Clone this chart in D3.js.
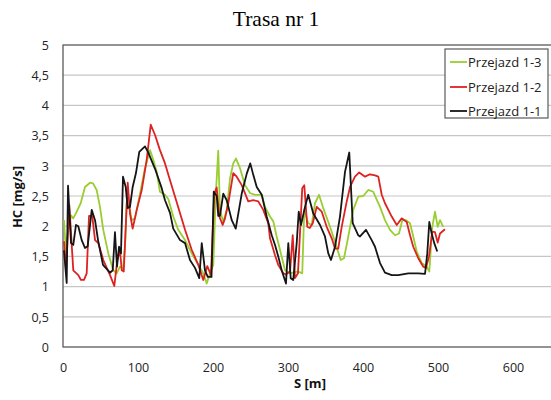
<!DOCTYPE html>
<html><head><meta charset="utf-8">
<script src="https://cdn.jsdelivr.net/npm/d3@7"></script>
<style>body{margin:0;background:#fff}svg{display:block}</style>
</head><body>
<svg id="c" width="551" height="400"></svg>
<script>
// ---- data ----
const title = "Trasa nr 1";
const xLabel = "S [m]";
const yLabel = "HC [mg/s]";
const xTicks = [0,100,200,300,400,500,600];
const yTicks = [0,0.5,1,1.5,2,2.5,3,3.5,4,4.5,5];
const seriesNames = ["Przejazd 1-3","Przejazd 1-2","Przejazd 1-1"];

const s13 = [1.3,4,6.7,10.7,13.7,18.3,23.6,29.3,36,40,44.9,49.3,53.7,60.4,67,71.6,76,80,82.7,84.9,89.3,91.6,96,102.7,109.3,116,120.4,124.9,129.3,136,140.4,147,153.7,162.7,171.6,180.4,187,191.6,196,200.4,203.6,207,209.3,213.7,218.3,222.7,227,230.7,236,242.7,249.3,256,265,269.3,276,280.4,284.9,289.3,296,302.7,309.3,313.7,319,321.7,327,331.6,336,341.3,347,356,362.7,370.3,374.7,380.4,387,393.7,400.4,407,413.7,418,422.7,429.3,436,442.7,448,452.4,457.3,462.7,467,471.6,478.3,485,488.4,492.4,496,499.6,502.7,507];
const hc13 = [2.1,1.55,1.9,2.18,2.13,2.24,2.38,2.65,2.72,2.71,2.6,2.32,1.94,1.55,1.27,1.22,1.33,1.29,1.66,2.38,2.27,2.1,2.13,2.54,2.96,3.26,3.1,2.9,2.57,2.52,2.45,2.16,1.94,1.77,1.55,1.36,1.22,1.05,1.22,1.36,2.49,3.25,2.27,2.07,2.27,2.79,3.04,3.12,2.96,2.68,2.55,2.52,2.52,2.32,2.16,2.08,1.83,1.61,1.27,1.22,1.24,1.25,1.22,2.27,2.05,2.02,2.38,2.52,2.3,1.99,1.74,1.44,1.47,1.83,2.27,2.49,2.5,2.6,2.57,2.45,2.32,2.1,1.94,1.85,1.88,2.1,2.1,2.05,1.83,1.58,1.39,1.33,1.25,1.99,2.24,1.99,2.1,1.99];

const s12 = [1.3,4,8.4,13.7,20.4,24,28,31.6,34.7,39,42.7,47.1,53.7,62.7,68.4,72.4,76,78.3,81,86.3,89.3,92.9,98.3,105,111.6,117,122.7,129.3,136,142.7,149.3,162.7,171.6,180.4,187,192.4,197.3,201.7,204.9,208.4,212.9,216,220.4,227,231.6,238.3,247,253.7,260.4,267,273.7,276,282.7,287,293.7,297,302.7,306.3,309.3,313.3,319,321.7,325.7,329,333,338.3,345,351.6,358.3,362.7,367,371.6,378.3,382.7,389.3,395,402.7,409.3,416,420.4,425,429.3,438.3,445,451.6,458.3,462.7,467,473.7,480.4,484,488,492.4,496,499.6,502.7,509.3];
const hc12 = [1.75,1.27,2.35,1.27,1.19,1.11,1.11,1.22,2.17,2.17,1.77,1.72,1.44,1.19,1.01,1.44,1.6,1.27,1.25,2.72,2.21,1.96,2.27,2.6,3.1,3.68,3.51,3.26,3.04,2.76,2.49,1.94,1.61,1.36,1.11,1.34,1.19,2.54,2.64,2.16,2.02,2.13,2.38,2.88,2.82,2.68,2.41,2.43,2.41,2.27,2.05,1.8,1.52,1.36,1.22,1.2,1.25,1.85,1.14,1.22,2.63,2.68,1.99,1.97,2.05,2.32,2.24,1.99,1.8,1.63,1.63,1.99,2.41,2.65,2.82,2.89,2.82,2.86,2.84,2.82,2.52,2.38,2.16,2.02,2.13,2.07,1.85,1.66,1.47,1.33,1.31,1.5,1.91,1.9,1.73,1.88,1.95];

const s11 = [1.3,4.9,6.7,10.7,13.7,17.3,20.4,24.9,29.3,32.9,38.3,42.7,46.7,53.3,62.7,66.3,69.3,72,74.7,77.3,80,83.6,86.3,89.3,92.9,97.3,101.7,109.3,113.3,122.7,131.6,136,142.7,147,156,162.7,169.3,176,181.7,185,189.3,193,198,201,205,207,209.3,213.7,218.3,225,230.3,238.3,245,249.7,253.7,258.3,265,271.6,278.3,282.7,287,291.6,297.3,300.4,303.6,307,311.6,314.3,317.3,322.7,327,333.7,342.7,349.3,353.7,357.3,362.7,369.3,376,381.7,386.3,393.7,396,404,411.6,416,422.7,429.3,438.3,447,460.4,473.7,482.7,485.7,488.4,491.6,495,499];
const hc11 = [1.6,1.06,2.67,1.72,1.69,2.02,2.0,1.77,1.64,1.67,2.27,2.1,1.77,1.36,1.23,1.27,1.9,1.33,1.66,1.55,2.82,2.65,2.3,2.32,2.65,2.88,3.23,3.32,3.23,2.95,2.63,2.43,2.22,1.96,1.77,1.72,1.44,1.31,1.14,1.72,1.27,1.16,1.16,2.57,2.5,2.17,2.17,2.54,2.43,2.1,1.96,2.54,2.87,3.04,2.85,2.65,2.52,2.16,1.85,1.69,1.5,1.27,1.05,1.72,1.14,1.11,1.72,2.24,2.02,2.32,2.52,2.21,2.02,1.83,1.55,1.44,1.66,2.16,2.9,3.22,2.05,1.85,1.83,1.94,1.77,1.66,1.39,1.23,1.19,1.19,1.22,1.22,1.21,1.55,2.07,1.88,1.72,1.58];

const seriesColors = ["#9acd32","#dd2222","#151515"];
// ---- chart ----
const series = [
  {name: seriesNames[0], s: s13, v: hc13, color: seriesColors[0]},
  {name: seriesNames[1], s: s12, v: hc12, color: seriesColors[1]},
  {name: seriesNames[2], s: s11, v: hc11, color: seriesColors[2]}
];
const svg = d3.select("#c");
const L = 63, T = 45, R = 558, B = 347;
const x = d3.scaleLinear().domain([0,660]).range([L,R]);
const y = d3.scaleLinear().domain([0,5]).range([B,T]);
const font = "'Open Sans', 'Noto Sans', sans-serif";

svg.append("text").attr("x",276).attr("y",26).attr("text-anchor","middle")
  .attr("font-family","'Liberation Serif', 'Times New Roman', serif").attr("font-size",21.5)
  .attr("fill","#000").text(title);

// grid
svg.append("g").selectAll("line").data(yTicks.slice(1,-1)).join("line")
  .attr("x1",L).attr("x2",R).attr("y1",d=>y(d)).attr("y2",d=>y(d))
  .attr("stroke","#c6c6c6").attr("stroke-width",1.2);

// axes
const fmt = d => String(d).replace(".", ",");
const ya = svg.append("g").attr("transform",`translate(${L-14},0)`)
  .call(d3.axisLeft(y).tickValues(yTicks).tickSize(0).tickPadding(0).tickFormat(fmt));
ya.select(".domain").remove();
ya.selectAll("text").attr("font-family",font).attr("font-size",12.5).attr("fill","#222").attr("dy","0.35em");

const xa = svg.append("g").attr("transform",`translate(0,${B})`)
  .call(d3.axisBottom(x).tickValues(xTicks).tickSize(0).tickPadding(16).tickFormat(d3.format("d")));
xa.select(".domain").remove();
xa.selectAll("text").attr("font-family",font).attr("font-size",12.5).attr("fill","#222");

// border
svg.append("rect").attr("x",L).attr("y",T).attr("width",R-L).attr("height",B-T)
  .attr("fill","none").attr("stroke","#5a5a5a").attr("stroke-width",1.3);

// axis titles
svg.append("text").attr("x",310).attr("y",388).attr("text-anchor","middle")
  .attr("font-family",font).attr("font-weight","bold").attr("font-size",13).attr("fill","#111").text(xLabel);
svg.append("text").attr("transform","translate(22,197) rotate(-90)").attr("text-anchor","middle")
  .attr("font-family",font).attr("font-weight","bold").attr("font-size",13).attr("fill","#111").text(yLabel);

// lines
const line = d3.line().x(d=>x(d[0])).y(d=>y(d[1]));
series.forEach(sr => {
  const pts = sr.s.map((s,i)=>[s, sr.v[i]]);
  svg.append("path").datum(pts).attr("d",line).attr("fill","none")
    .attr("stroke",sr.color).attr("stroke-width",1.8).attr("stroke-linejoin","round");
});

// legend
const lg = svg.append("g");
lg.append("rect").attr("x",445).attr("y",49).attr("width",103).attr("height",69)
  .attr("fill","#fff").attr("stroke","#5a5a5a").attr("stroke-width",1.2);
const rowsY = [62,87,111];
series.forEach((sr,i) => {
  lg.append("line").attr("x1",450).attr("x2",467).attr("y1",rowsY[i]).attr("y2",rowsY[i])
    .attr("stroke",sr.color).attr("stroke-width",1.8);
  lg.append("text").attr("x",468).attr("y",rowsY[i]).attr("dy","0.35em")
    .attr("font-family",font).attr("font-size",13).attr("fill","#222").text(sr.name);
});
</script>
</body></html>
